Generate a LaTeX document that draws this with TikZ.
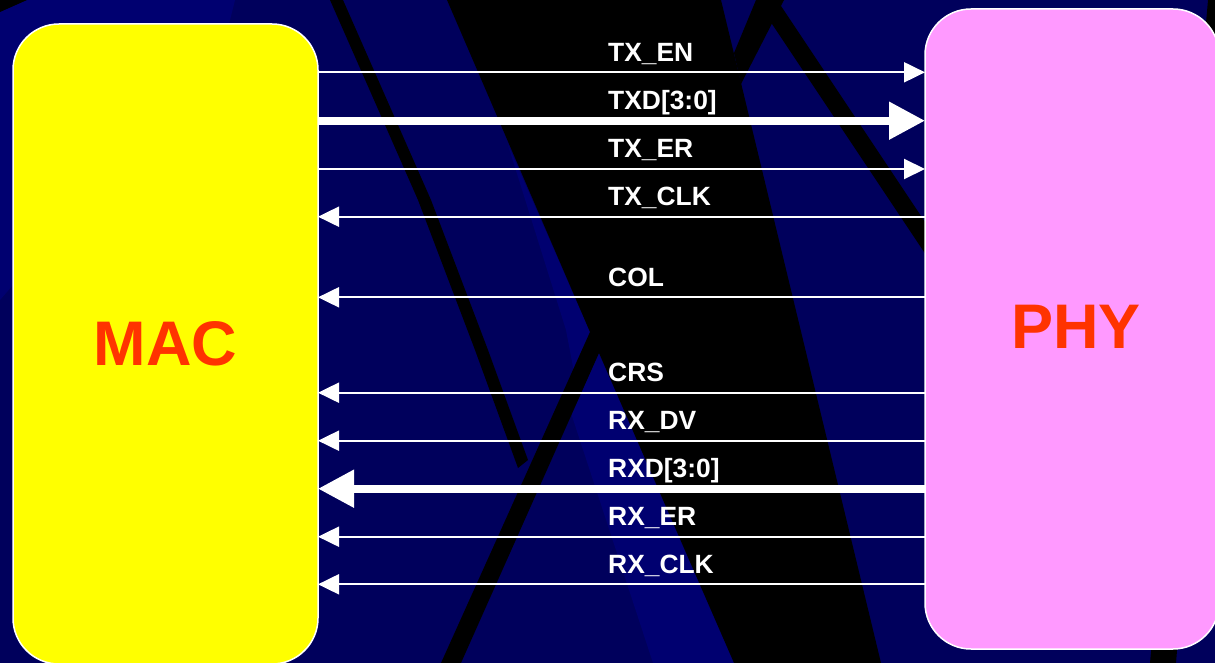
\documentclass[tikz,border=0pt]{standalone}
\usepackage{fontspec}
\setmainfont{Liberation Sans}
\usetikzlibrary{arrows.meta}
\definecolor{navy}{RGB}{0,0,92}
\definecolor{navylight}{RGB}{0,0,112}
\definecolor{macyellow}{RGB}{255,255,0}
\definecolor{phypink}{RGB}{255,153,255}
\definecolor{blockred}{RGB}{255,51,0}
\tikzset{
  block/.style={draw=white, line width=1.5pt, rounded corners=46pt,
    inner sep=0pt, outer sep=0pt, anchor=north west, text=blockred,
    font=\fontsize{63}{70}\selectfont\bfseries},
  sig/.style={draw=white, line width=2pt, -{Triangle[length=21pt,width=20pt]}},
  bus/.style={draw=white, line width=8pt, -{Triangle[length=36pt,width=36pt]}},
  siglabel/.style={text=white, anchor=base west, inner sep=0pt,
    font=\fontsize{26.4}{30}\selectfont\bfseries},
}
\begin{document}
\begin{tikzpicture}[x=1pt,y=-1pt]
\useasboundingbox (0,0) rectangle (1215,663);
\clip (0,0) rectangle (1215,663);

% background
\fill[navy] (0,0) rectangle (1215,663);
\fill[navylight] (0,12) -- (27,0) -- (235,0) -- (225,40) -- (0,300) -- cycle;
\fill[navylight] (508,145) -- (590,332) -- (574,372) -- (566,330) -- cycle;
\fill[navylight] (599,340) -- (570,410) -- (653,663) -- (740,663) -- cycle;

% black bands
\fill[black] (447,0) -- (590,332) -- (441,663) -- (461,663) -- (599,353)
  -- (734,663) -- (881,663) -- (721,0) -- cycle;
\fill[black] (330,0) -- (343,0) -- (431,200) -- (488,350) -- (528,460)
  -- (518,468) -- (475,350) -- (418,200) -- cycle;
\fill[black] (756,0) -- (784,0) -- (741,84) -- (734,53) -- cycle;
\fill[black] (756,0) -- (777,0) -- (977,300) -- (956,300) -- cycle;
\fill[black] (1208,0) -- (1230,0) -- (1176,663) -- (1150,663) -- cycle;
\fill[black] (0,0) -- (27,0) -- (0,12) -- cycle;

% the two blocks
\node[block, fill=macyellow, minimum width=305pt, minimum height=640pt]
  (mac) at (13,24) {MAC};
\node[block, fill=phypink, minimum width=294pt, minimum height=640pt]
  (phy) at (925,9) {\hspace*{8pt}PHY\raisebox{0pt}[0pt][4pt]{}};

% signal rows
\coordinate (r1) at (0,72.3);
\coordinate (r2) at (0,120.7);
\coordinate (r3) at (0,169);
\coordinate (r4) at (0,216.7);
\coordinate (r5) at (0,297.3);
\coordinate (r6) at (0,392.7);
\coordinate (r7) at (0,440.7);
\coordinate (r8) at (0,488.7);
\coordinate (r9) at (0,536.7);
\coordinate (r10) at (0,584.3);

% transmit side
\draw[sig] (mac.east |- r1) -- (phy.west |- r1);
\draw[bus] (mac.east |- r2) -- (phy.west |- r2);
\draw[sig] (mac.east |- r3) -- (phy.west |- r3);
\draw[sig] (phy.west |- r4) -- (mac.east |- r4);
% receive side
\draw[sig] (phy.west |- r5) -- (mac.east |- r5);
\draw[sig] (phy.west |- r6) -- (mac.east |- r6);
\draw[sig] (phy.west |- r7) -- (mac.east |- r7);
\draw[bus] (phy.west |- r8) -- (mac.east |- r8);
\draw[sig] (phy.west |- r9) -- (mac.east |- r9);
\draw[sig] (phy.west |- r10) -- (mac.east |- r10);

% labels
\node[siglabel] (l1) at (608,61.5) {TX\_EN};
\node[siglabel] (l2) at (608,109.7) {TXD[3:0]};
\node[siglabel] (l3) at (608,158) {TX\_ER};
\node[siglabel] (l4) at (608,205.7) {TX\_CLK};
\node[siglabel] (l5) at (608,286) {COL};
\node[siglabel] (l6) at (608,381.7) {CRS};
\node[siglabel] (l7) at (608,429.7) {RX\_DV};
\node[siglabel] (l8) at (608,477.7) {RXD[3:0]};
\node[siglabel] (l9) at (608,525.7) {RX\_ER};
\node[siglabel] (l10) at (608,573.3) {RX\_CLK};
\end{tikzpicture}
\end{document}
